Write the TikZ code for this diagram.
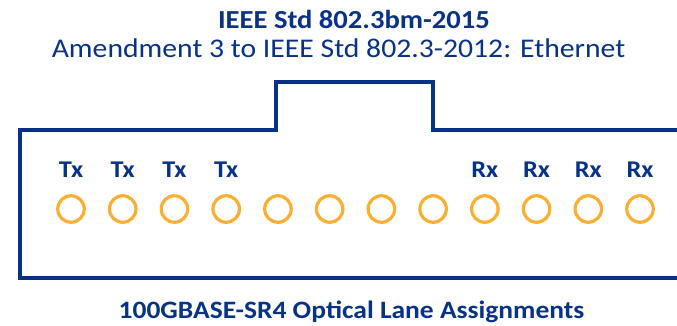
\documentclass[tikz,border=0pt]{standalone}
\usepackage{fontspec}
\setmainfont{Carlito}
\definecolor{ieeeblue}{RGB}{8,50,135}
\definecolor{portorange}{RGB}{250,174,50}
\newcommand{\widetxt}[1]{\scalebox{1.1}[1]{#1}}
\begin{document}
\begin{tikzpicture}[x=1pt,y=-1pt,
  outline/.style={draw=ieeeblue,line width=3.4pt,line join=miter},
  port/.style={circle,draw=portorange,line width=3.2pt,minimum size=26.5pt,inner sep=0pt},
  lanelabel/.style={anchor=base,text=ieeeblue,font=\fontsize{24}{28}\selectfont\bfseries,inner sep=0pt},
  titletext/.style={anchor=base,text=ieeeblue,inner sep=0pt}
]
\useasboundingbox (0,0) rectangle (677,325);
\clip (0,0) rectangle (677,325);
\fill[white] (0,0) rectangle (677,325);
\draw[outline] (700,278) -- (20,278) -- (20,130) -- (276,130) -- (276,82) -- (433,82) -- (433,130) -- (700,130);
\node[titletext,font=\fontsize{26}{28}\selectfont\bfseries] (title) at (354,28) {\widetxt{IEEE Std 802.3bm-2015}};
\node[titletext,font=\fontsize{27}{28}\selectfont] (subtitle) at (338.5,57) {\widetxt{Amendment 3 to IEEE Std 802.3-2012: Ethernet}};
\node[titletext,font=\fontsize{25}{28}\selectfont\bfseries] (caption) at (351.5,318) {\widetxt{100GBASE-SR4 Optical Lane Assignments}};
\foreach \i in {0,...,11}{
  \node[port] (p\i) at ({71+51.73*\i},209) {};
}
\foreach \i in {0,...,3}{
  \node[lanelabel] (tx\i) at ({71+51.73*\i},177) {\widetxt{Tx}};
}
\foreach \i in {8,...,11}{
  \node[lanelabel] (rx\i) at ({71+51.73*\i},177) {\widetxt{Rx}};
}
\end{tikzpicture}
\end{document}
